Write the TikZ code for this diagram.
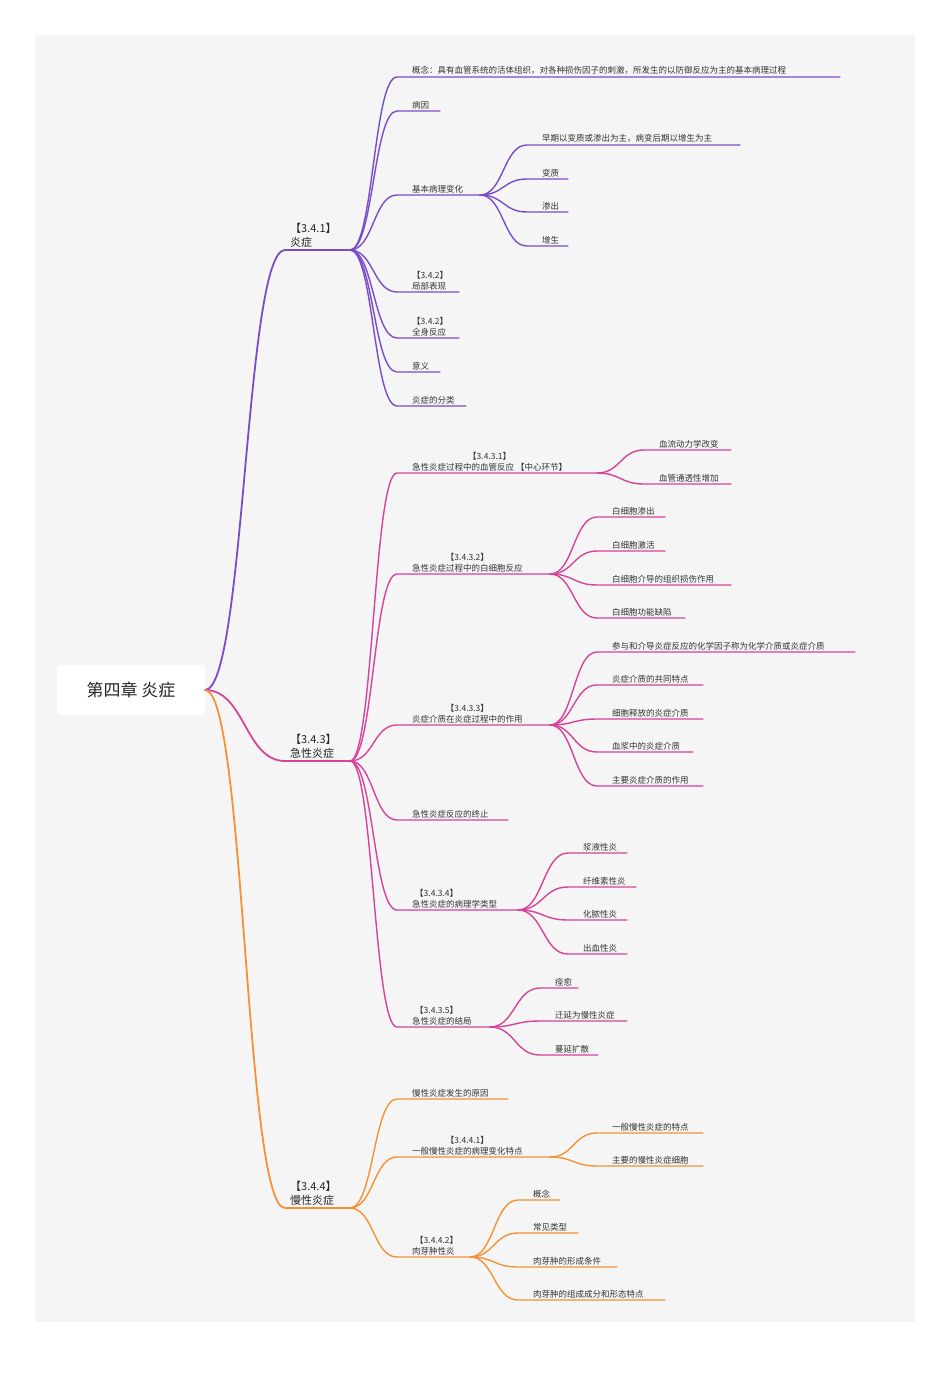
\documentclass[tikz,border=0pt]{standalone}
\usepackage{fontspec}
\setmainfont{Noto Sans CJK SC}
\usetikzlibrary{calc,positioning}
\definecolor{cpurple}{HTML}{7B4CC8}
\definecolor{cpink}{HTML}{D6449A}
\definecolor{corange}{HTML}{F39237}
\definecolor{cbg}{HTML}{F5F5F5}
\tikzset{
  leaftext/.style={font=\fontsize{8.5}{11}\selectfont, inner sep=1pt, anchor=south west, text=black!80},
  toptext/.style={font=\fontsize{11}{14}\selectfont, inner sep=1pt, anchor=south west, align=left, text=black!85},
  branch/.style={line width=1.4pt, line cap=round},
  mainbranch/.style={line width=1.8pt, line cap=round},
}
% color, name, parent, x0, y, x1, text, align
\newcommand\leaf[8][left]{%
  \coordinate (#3-s) at (#5,#6);
  \coordinate (#3-e) at (#7,#6);
  \node[leaftext, align=#1] (#3) at (#5+14,#6-1) {#8};
  \draw[#2,branch] let \p1=(#4-e), \p2=(#3-s) in
    (\p1) .. controls (\x1/2+\x2/2,\y1) and (\x1/2+\x2/2,\y2) .. (\p2) -- (#3-e);
}
\newcommand\topic[6]{% color, name, y, line1, line2
  \coordinate (#2-s) at (285,#3);
  \coordinate (#2-e) at (350,#3);
  \node[toptext] (#2) at (289,#3-1) {#4\\#5};
  \draw[#1,mainbranch] let \p1=(root-e), \p2=(#2-s) in
    (\p1) .. controls (\x1/2+\x2/2,\y1) and (\x1/2+\x2/2,\y2) .. (\p2) -- (#2-e);
}
\begin{document}
\begin{tikzpicture}[x=1pt,y=-1pt]
  \useasboundingbox (0,0) rectangle (950,1387);
  \fill[cbg] (35,35) rectangle (915,1322);

  \node[fill=white, rounded corners=3pt, minimum width=148pt, minimum height=50pt,
        font=\fontsize{17}{20}\selectfont, text=black!85] (root) at (131,690) {第四章 炎症};
  \coordinate (root-e) at (205,690);

  % 3.4.1
  \topic{cpurple}{a}{250}{【3.4.1】}{炎症}{}
  \leaf{cpurple}{a1}{a}{397}{77}{840}{概念：具有血管系统的活体组织，对各种损伤因子的刺激，所发生的以防御反应为主的基本病理过程}
  \leaf{cpurple}{a2}{a}{397}{111}{440}{病因}
  \leaf{cpurple}{a3}{a}{397}{195}{480}{基本病理变化}
  \leaf{cpurple}{a31}{a3}{527}{145}{740}{早期以变质或渗出为主，病变后期以增生为主}
  \leaf{cpurple}{a32}{a3}{527}{179}{568}{变质}
  \leaf{cpurple}{a33}{a3}{527}{212}{568}{渗出}
  \leaf{cpurple}{a34}{a3}{527}{246}{568}{增生}
  \leaf{cpurple}{a4}{a}{397}{292}{459}{【3.4.2】\\局部表现}
  \leaf{cpurple}{a5}{a}{397}{338}{459}{【3.4.2】\\全身反应}
  \leaf{cpurple}{a6}{a}{397}{372}{440}{意义}
  \leaf{cpurple}{a7}{a}{397}{406}{466}{炎症的分类}

  % 3.4.3
  \topic{cpink}{b}{761}{【3.4.3】}{急性炎症}{}
  \leaf[center]{cpink}{b1}{b}{397}{473}{597}{【3.4.3.1】\\急性炎症过程中的血管反应 【中心环节】}
  \leaf{cpink}{b11}{b1}{644}{450}{731}{血流动力学改变}
  \leaf{cpink}{b12}{b1}{644}{484}{731}{血管通透性增加}
  \leaf[center]{cpink}{b2}{b}{397}{574}{550}{【3.4.3.2】\\急性炎症过程中的白细胞反应}
  \leaf{cpink}{b21}{b2}{597}{517}{665}{白细胞渗出}
  \leaf{cpink}{b22}{b2}{597}{551}{665}{白细胞激活}
  \leaf{cpink}{b23}{b2}{597}{585}{731}{白细胞介导的组织损伤作用}
  \leaf{cpink}{b24}{b2}{597}{618}{685}{白细胞功能缺陷}
  \leaf[center]{cpink}{b3}{b}{397}{725}{550}{【3.4.3.3】\\炎症介质在炎症过程中的作用}
  \leaf{cpink}{b31}{b3}{597}{652}{855}{参与和介导炎症反应的化学因子称为化学介质或炎症介质}
  \leaf{cpink}{b32}{b3}{597}{685}{703}{炎症介质的共同特点}
  \leaf{cpink}{b33}{b3}{597}{719}{703}{细胞释放的炎症介质}
  \leaf{cpink}{b34}{b3}{597}{752}{693}{血浆中的炎症介质}
  \leaf{cpink}{b35}{b3}{597}{786}{703}{主要炎症介质的作用}
  \leaf{cpink}{b4}{b}{397}{820}{508}{急性炎症反应的终止}
  \leaf{cpink}{b5}{b}{397}{910}{518}{\hspace*{3pt}【3.4.3.4】\\急性炎症的病理学类型}
  \leaf{cpink}{b51}{b5}{568}{853}{627}{浆液性炎}
  \leaf{cpink}{b52}{b5}{568}{887}{636}{纤维素性炎}
  \leaf{cpink}{b53}{b5}{568}{920}{627}{化脓性炎}
  \leaf{cpink}{b54}{b5}{568}{954}{627}{出血性炎}
  \leaf{cpink}{b6}{b}{397}{1027}{490}{\hspace*{3pt}【3.4.3.5】\\急性炎症的结局}
  \leaf{cpink}{b61}{b6}{540}{988}{578}{痊愈}
  \leaf{cpink}{b62}{b6}{540}{1021}{627}{迁延为慢性炎症}
  \leaf{cpink}{b63}{b6}{540}{1055}{598}{蔓延扩散}

  % 3.4.4
  \topic{corange}{c}{1208}{【3.4.4】}{慢性炎症}{}
  \leaf{corange}{c1}{c}{397}{1099}{508}{慢性炎症发生的原因}
  \leaf[center]{corange}{c2}{c}{397}{1157}{550}{【3.4.4.1】\\一般慢性炎症的病理变化特点}
  \leaf{corange}{c21}{c2}{597}{1133}{703}{一般慢性炎症的特点}
  \leaf{corange}{c22}{c2}{597}{1166}{703}{主要的慢性炎症细胞}
  \leaf{corange}{c3}{c}{397}{1257}{470}{\hspace*{3pt}【3.4.4.2】\\肉芽肿性炎}
  \leaf{corange}{c31}{c3}{518}{1200}{560}{概念}
  \leaf{corange}{c32}{c3}{518}{1233}{578}{常见类型}
  \leaf{corange}{c33}{c3}{518}{1267}{617}{肉芽肿的形成条件}
  \leaf{corange}{c34}{c3}{518}{1300}{665}{肉芽肿的组成成分和形态特点}
\end{tikzpicture}
\end{document}
